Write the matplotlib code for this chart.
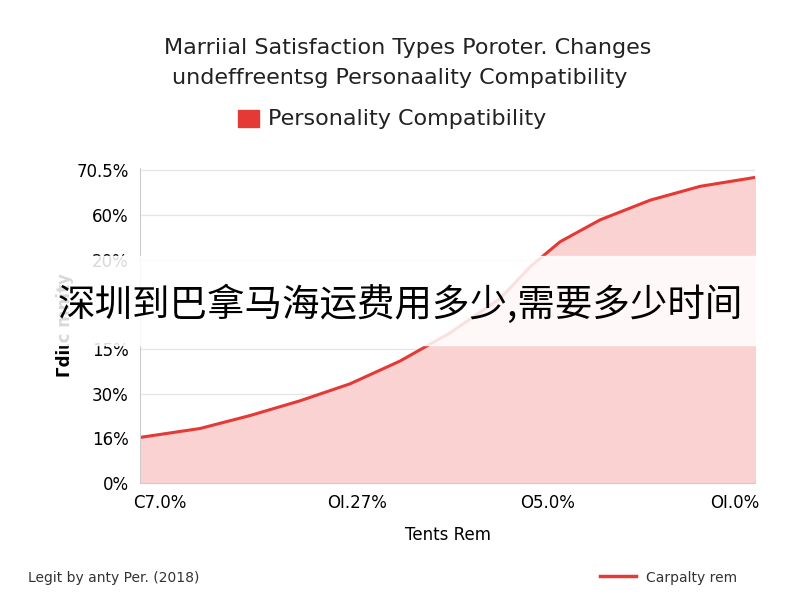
import matplotlib.pyplot as plt
import numpy as np

plt.rcParams['font.family'] = ['DejaVu Sans', 'Noto Sans CJK SC']

# curve (x in axis pixels from left, y in tick steps)
curve_x = [0, 60, 110, 160, 210, 260, 310, 360, 390, 420, 460, 510, 560, 615]
curve_y = [1.02, 1.22, 1.51, 1.84, 2.22, 2.73, 3.36, 4.13, 4.84, 5.4, 5.89, 6.33, 6.64, 6.84]
y_labels = ["0%", "16%", "30%", "15%", "", "20%", "60%", "70.5%"]
x_labels = ["C7.0%", "OI.27%", "O5.0%", "OI.0%"]
x_tick_pos = [20, 217, 407, 595]

fig = plt.figure(figsize=(8, 6), dpi=100)
ax = fig.add_axes([0.175, 0.195, 0.769, 0.525])

red = '#e53935'
ax.plot(curve_x, curve_y, color=red, lw=2.2, solid_joinstyle='round')
ax.fill_between(curve_x, curve_y, 0, color='#fbd0d0', alpha=0.95)
ax.set_xlim(0, 615)
ax.set_ylim(0, 7.05)
ax.set_yticks(range(8))
ax.set_yticklabels(y_labels, fontsize=12)
ax.set_xticks(x_tick_pos)
ax.set_xticklabels(x_labels, fontsize=12)
ax.tick_params(length=0, pad=8)
ax.grid(axis='y', color='#e6e6e6', lw=1)
ax.set_axisbelow(True)
for s in ['top', 'right']:
    ax.spines[s].set_visible(False)
for s in ['left', 'bottom']:
    ax.spines[s].set_color('#cccccc')
ax.set_xlabel("Tents Rem", fontsize=12, labelpad=10)
ax.set_ylabel("Γdiιc mnity", fontsize=12, fontweight='bold', labelpad=2)

fig.text(0.51, 0.91, "Marriial Satisfaction Types Poroter. Changes", ha='center', fontsize=16, color='#222222')
fig.text(0.5, 0.86, "undeffreentsg Personaality Compatibility", ha='center', fontsize=16, color='#222222')
fig.patches.append(plt.Rectangle((0.297, 0.789), 0.027, 0.028, transform=fig.transFigure, color=red))
fig.text(0.335, 0.802, "Personality Compatibility", va='center', fontsize=16, color='#222222')

fig.text(0.035, 0.03, "Legit by anty Per. (2018)", fontsize=10, color='#333333')
fig.lines.append(plt.Line2D([0.75, 0.795], [0.04, 0.04], transform=fig.transFigure, color=red, lw=2.5))
fig.text(0.807, 0.03, "Carpalty rem", fontsize=10, color='#333333')

# watermark banner
fig.patches.append(plt.Rectangle((0, 0.425), 1, 0.148, transform=fig.transFigure,
                                 color='white', alpha=0.85, zorder=5))
fig.text(0.5, 0.492, "深圳到巴拿马海运费用多少,需要多少时间", ha='center', va='center',
         fontsize=27, family=['Noto Sans CJK SC', 'DejaVu Sans'], zorder=6)

fig.savefig('out.png')
